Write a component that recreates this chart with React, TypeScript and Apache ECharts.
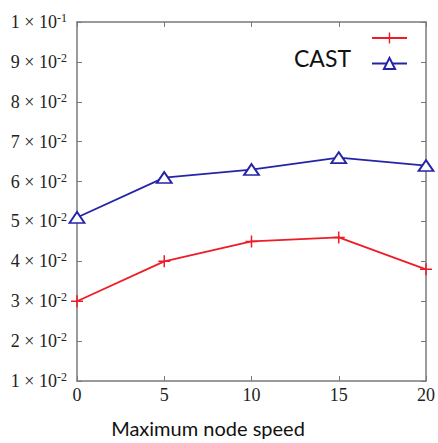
import React, { useEffect, useRef } from "react";
import * as echarts from "echarts";

const speeds = ["0", "5", "10", "15", "20"];
const redValues = [3.0, 4.0, 4.5, 4.6, 3.8]; // ×10^-2
const castValues = [5.1, 6.1, 6.3, 6.6, 6.4]; // ×10^-2

const RED = "#ee1c25";
const BLUE = "#2424a8";
const AXIS = "#7a7a7a";

const plusPath =
  "path://M5.25,0h1.5v5.25h5.25v1.5h-5.25v5.25h-1.5v-5.25h-5.25v-1.5h5.25z";

export default function App() {
  const ref = useRef<HTMLDivElement>(null);
  useEffect(() => {
    if (!ref.current) return;
    const chart = echarts.init(ref.current, undefined, { renderer: "svg" });
    const fmtY = (v: number) =>
      v === 10 ? "{b|1 × 10}{s|-1}" : `{b|${v} × 10}{s|-2}`;
    chart.setOption({
      animation: false,
      backgroundColor: "#ffffff",
      grid: { left: 77, right: 10, top: 22, bottom: 60 },
      legend: [
        {
          data: ["red"],
          orient: "vertical",
          right: 25,
          top: 26,
          itemWidth: 35,
          itemHeight: 14,
          formatter: () => "",
          selectedMode: false,
        },
        {
          data: ["CAST"],
          orient: "vertical",
          align: "right",
          right: 25,
          top: 41,
          itemWidth: 35,
          itemHeight: 14,
          itemGap: 0,
          selectedMode: false,
          formatter: (name: string) => name + "\n ",
          textStyle: {
            fontFamily: "Lato",
            fontSize: 23,
            color: "#111",
            lineHeight: 12,
            padding: [0, 16, 0, 0],
          },
        },
      ],
      xAxis: [
        {
          type: "category",
          data: speeds,
          boundaryGap: false,
          axisLine: { lineStyle: { color: AXIS, width: 1.5 } },
          axisTick: { inside: true, length: 5, lineStyle: { color: AXIS } },
          axisLabel: {
            margin: 5,
            fontFamily: "Liberation Serif",
            fontSize: 18,
            color: "#222",
          },
          splitLine: { show: false },
          name: "Maximum node speed",
          nameLocation: "middle",
          nameGap: 37,
          nameTextStyle: {
            fontFamily: "Lato",
            fontSize: 20,
            color: "#111",
            padding: [0, 87, 0, 0],
          },
        },
        {
          type: "category",
          data: speeds,
          boundaryGap: false,
          position: "top",
          axisLine: { lineStyle: { color: AXIS, width: 1.5 } },
          axisTick: { inside: true, length: 5, lineStyle: { color: AXIS } },
          axisLabel: { show: false },
        },
      ],
      yAxis: [
        {
          type: "value",
          min: 1,
          max: 10,
          interval: 1,
          axisLine: { show: true, lineStyle: { color: AXIS, width: 1.5 } },
          axisTick: { show: true, inside: true, length: 5, lineStyle: { color: AXIS } },
          splitLine: { show: false },
          axisLabel: {
            margin: 10,
            formatter: fmtY,
            rich: {
              b: {
                fontFamily: "Liberation Serif",
                fontSize: 18,
                color: "#222",
                lineHeight: 20,
              },
              s: {
                fontFamily: "Liberation Serif",
                fontSize: 12,
                color: "#222",
                verticalAlign: "top",
                lineHeight: 12,
              },
            },
          },
        },
        {
          type: "value",
          min: 1,
          max: 10,
          interval: 1,
          position: "right",
          axisLine: { show: true, lineStyle: { color: AXIS, width: 1.5 } },
          axisTick: { show: true, inside: true, length: 5, lineStyle: { color: AXIS } },
          splitLine: { show: false },
          axisLabel: { show: false },
        },
      ],
      series: [
        {
          name: "red",
          type: "line",
          data: redValues,
          symbol: plusPath,
          symbolSize: 12,
          lineStyle: { color: RED, width: 1.8 },
          itemStyle: { color: RED },
        },
        {
          name: "CAST",
          type: "line",
          data: castValues,
          symbol: "triangle",
          symbolSize: [15, 11],
          lineStyle: { color: BLUE, width: 1.8 },
          itemStyle: { color: "#ffffff", borderColor: BLUE, borderWidth: 1.8 },
        },
      ],
    });
    return () => chart.dispose();
  }, []);
  return (
    <div
      ref={ref}
      style={{ position: "fixed", left: 0, top: 0, width: 438, height: 443 }}
    />
  );
}
